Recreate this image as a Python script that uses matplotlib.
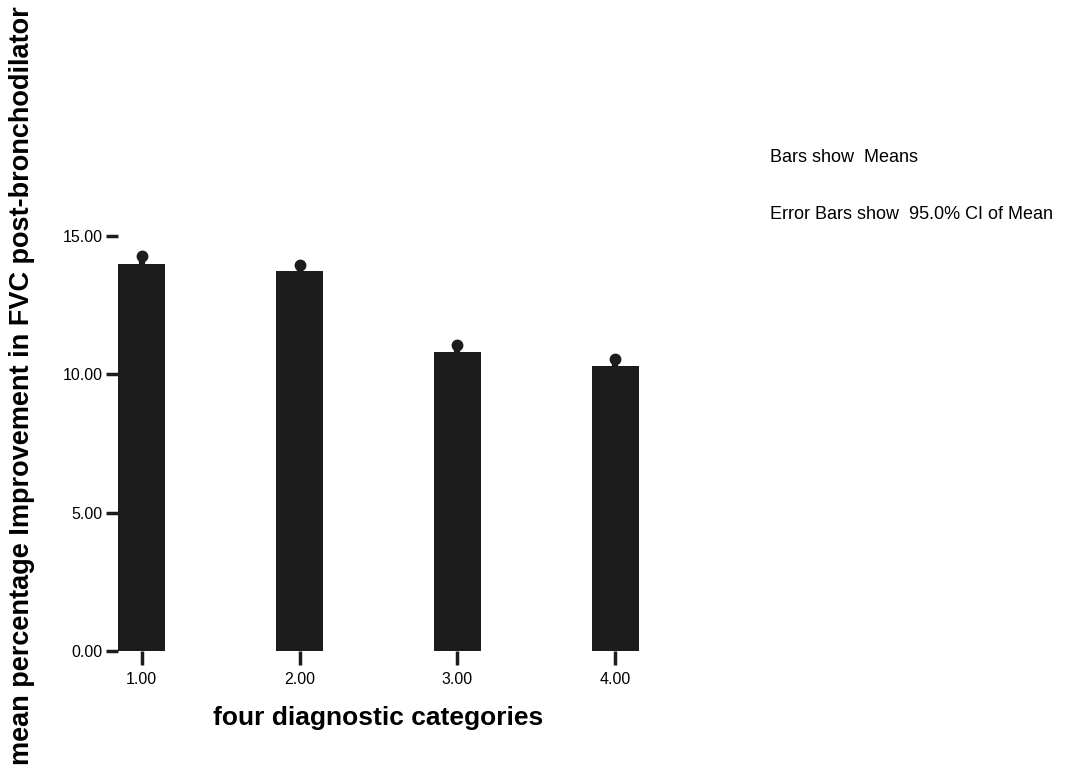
import matplotlib.pyplot as plt

plt.rcParams['font.family'] = ['Liberation Sans', 'DejaVu Sans']

# group means and upper 95% CI limits
categories = [1.00, 2.00, 3.00, 4.00]
tick_labels = ["1.00", "2.00", "3.00", "4.00"]
means = [14.00, 13.73, 10.82, 10.31]
ci_upper = [14.27, 13.97, 11.06, 10.56]

dark = "#1c1c1c"
yerr = [[0, 0, 0, 0], [u - m for u, m in zip(ci_upper, means)]]

fig = plt.figure(figsize=(10.68, 7.71), dpi=100)
ax = fig.add_axes([0.1105, 0.1556, 0.51, 0.5383])

ax.bar(categories, means, width=0.3, color=dark, zorder=2)
ax.errorbar(categories, means, yerr=yerr, fmt="none", ecolor=dark,
            elinewidth=4.5, capsize=0, zorder=3)
# rounded whisker ends
ax.plot(categories, ci_upper, "o", color=dark, markersize=7.5, zorder=4)

ax.set_xlim(0.85, 4.3)
ax.set_ylim(0, 15)
ax.set_yticks([0, 5, 10, 15])
ax.set_yticklabels(["0.00", "5.00", "10.00", "15.00"], fontsize=11.5)
ax.set_xticks(categories)
ax.set_xticklabels(tick_labels, fontsize=11.5)
ax.tick_params(axis="y", length=9, width=2.5, color=dark, pad=2)
ax.tick_params(axis="x", length=10, width=2.5, color=dark, pad=5)

for s in ax.spines.values():
    s.set_visible(False)

fig.text(0.354, 0.069, "four diagnostic categories", fontsize=19,
         fontweight="bold", ha="center", va="center")
fig.text(0.021, 0.5, "mean percentage Improvement in FVC post-bronchodilator",
         rotation=90, fontsize=19.5, fontweight="bold", ha="center", va="center")

fig.text(0.721, 0.796, "Bars show  Means", fontsize=13, va="center")
fig.text(0.721, 0.722, "Error Bars show  95.0% CI of Mean", fontsize=13, va="center")

fig.savefig("out.png", dpi=100)
